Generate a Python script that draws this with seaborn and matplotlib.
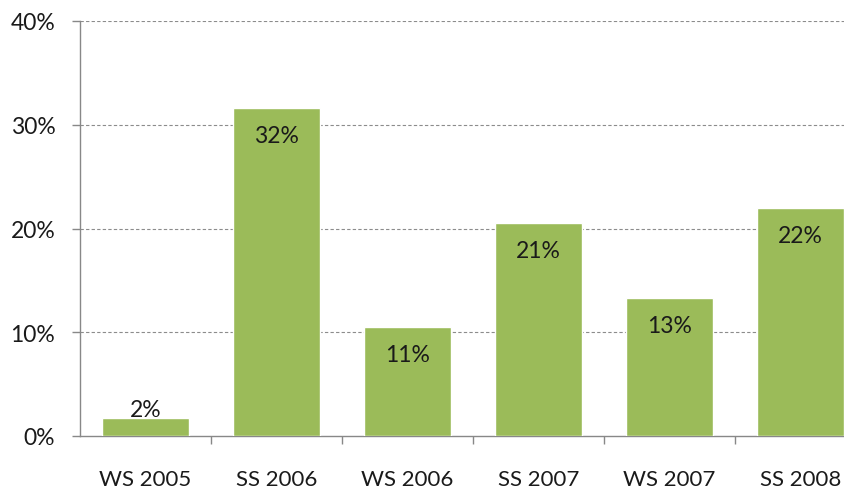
import matplotlib
matplotlib.use('Agg')
import matplotlib.pyplot as plt
import numpy as np
import pandas as pd
import seaborn as sns

semesters = ["WS 2005", "SS 2006", "WS 2006", "SS 2007", "WS 2007", "SS 2008"]
shares = [1.7, 31.6, 10.5, 20.5, 13.3, 22.0]
labels = ["2%", "32%", "11%", "21%", "13%", "22%"]
y_ticks = [0, 10, 20, 30, 40]

sns.set_style("white")
plt.rcParams['font.family'] = ['Lato', 'DejaVu Sans']

df = pd.DataFrame({"semester": semesters, "share": shares})

fig = plt.figure(figsize=(8.45, 4.89), dpi=100)
# axis spans past the right edge, the last bar is cut off like in the source
ax = fig.add_axes([80 / 845, 52 / 489, 786 / 845, 415 / 489])

sns.barplot(data=df, x="semester", y="share", color="#9BBB59", saturation=1,
            width=0.665, ax=ax, zorder=3)

for i, (v, lab) in enumerate(zip(shares, labels)):
    ax.text(i, max(v - 2.65, 2.6), lab, ha='center', va='center',
            fontsize=16.5, color='#1a1a1a', zorder=4)

ax.set_ylim(0, 40)
ax.set_xlim(-0.5, len(semesters) - 0.5)
ax.set_yticks(y_ticks)
ax.set_yticklabels([f"{t}%" for t in y_ticks])
ax.set_xlabel("")
ax.set_ylabel("")

for t in y_ticks[1:]:
    ax.axhline(t, color='#8c8c8c', linestyle=(0, (3, 2)), linewidth=0.8, zorder=1)

for s in ['top', 'right']:
    ax.spines[s].set_visible(False)
for s in ['left', 'bottom']:
    ax.spines[s].set_color('#888888')
    ax.spines[s].set_linewidth(1)

ax.tick_params(axis='y', length=5.8, width=1, color='#888888', labelsize=16.5,
               labelcolor='#1a1a1a', pad=12, left=True)
ax.tick_params(axis='x', length=0, labelsize=16, labelcolor='#1a1a1a', pad=24)
# category boundary ticks
ax.set_xticks(np.arange(0.5, len(semesters) - 0.5), minor=True)
ax.tick_params(axis='x', which='minor', length=5.8, width=1, color='#888888', bottom=True)

fig.savefig("out.png", dpi=100)
